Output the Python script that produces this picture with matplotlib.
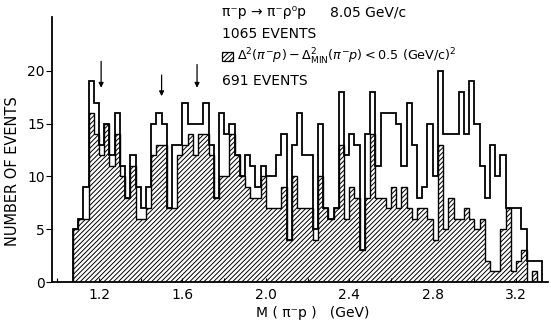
import matplotlib
matplotlib.use('Agg')
import matplotlib.pyplot as plt
import numpy as np
from matplotlib.patches import Rectangle

# ---- data ----
bin_start = 1.075      # GeV, left edge of first bin
bin_width = 0.025      # GeV
all_events = [5, 6, 9, 19, 17, 13, 15, 12, 16, 11,
              8, 12, 9, 7, 9, 15, 16, 15, 7, 13,
              13, 17, 15, 15, 15, 17, 13, 8, 16, 14,
              15, 12, 10, 12, 11, 9, 11, 10, 10, 12,
              14, 4, 13, 16, 12, 12, 5, 15, 7, 6,
              7, 18, 12, 14, 13, 3, 14, 18, 11, 16,
              16, 16, 15, 11, 17, 13, 8, 9, 15, 10,
              20, 14, 14, 14, 18, 14, 19, 15, 11, 8,
              13, 10, 12, 7, 7, 7, 5, 2, 2, 2]
selected_events = [5, 6, 6, 16, 14, 12, 15, 11, 14, 10,
                   8, 11, 6, 6, 7, 12, 13, 13, 7, 7,
                   12, 13, 14, 12, 14, 14, 12, 8, 10, 10,
                   14, 12, 10, 9, 8, 8, 10, 7, 7, 7,
                   9, 4, 10, 7, 7, 7, 4, 10, 7, 6,
                   7, 13, 6, 9, 8, 3, 8, 14, 8, 8,
                   7, 9, 7, 9, 7, 6, 7, 7, 6, 4,
                   13, 5, 8, 6, 6, 7, 6, 5, 6, 2,
                   1, 1, 5, 7, 1, 2, 3, 0, 1, 0]
arrow_masses = [1.21, 1.50, 1.67]
arrow_tops = [20.9, 19.6, 20.6]
arrow_bottoms = [18.4, 17.6, 18.4]
x_ticks = [1.2, 1.6, 2.0, 2.4, 2.8, 3.2]
x_minor = [1.0, 1.4, 1.8, 2.2, 2.6, 3.0]
y_ticks = [0, 5, 10, 15, 20]

plt.rcParams['font.family'] = ['DejaVu Sans']
plt.rcParams['mathtext.fontset'] = 'dejavusans'
plt.rcParams['hatch.linewidth'] = 0.7

W, H = 551, 323
fig = plt.figure(figsize=(W / 100, H / 100), dpi=100)
ax = fig.add_axes([51.7 / W, 1 - 282 / H, (548 - 51.7) / W, (282 - 17) / H])

edges = bin_start + bin_width * np.arange(len(all_events) + 1)
ax.stairs(selected_events, edges, fill=True, facecolor='white',
          edgecolor='black', hatch='///////', linewidth=1.0)
ax.stairs(all_events, edges, color='black', linewidth=1.3, baseline=0)

for xm, yt, yb in zip(arrow_masses, arrow_tops, arrow_bottoms):
    ax.annotate('', xy=(xm, yb), xytext=(xm, yt),
                arrowprops=dict(arrowstyle='-|>', color='black', lw=0.9,
                                mutation_scale=7, shrinkA=0, shrinkB=0))

ax.set_xlim(0.973, 3.353)
ax.set_ylim(0, 25.1)
ax.spines['top'].set_visible(False)
ax.spines['right'].set_visible(False)
ax.spines['left'].set_linewidth(1.3)
ax.spines['bottom'].set_linewidth(1.3)

ax.set_xticks(x_ticks)
ax.set_xticklabels([f'{v:.1f}' for v in x_ticks])
ax.set_xticks(x_minor, minor=True)
ax.set_yticks(y_ticks)
ax.tick_params(axis='x', direction='in', length=3, width=0.8, labelsize=10, pad=4)
ax.tick_params(axis='x', which='minor', direction='in', length=3, width=0.8)
ax.tick_params(axis='y', direction='out', length=4, width=0.8, labelsize=10, pad=1)

ax.set_xlabel('M ( π⁻p )   (GeV)', fontsize=10)
ax.xaxis.set_label_coords((313 - 51.7) / 496.3, (282 - 306) / 265)
ax.set_ylabel('NUMBER OF EVENTS', fontsize=10.5)
ax.yaxis.set_label_coords((20 - 51.7) / 496.3, (282 - 171) / 265)

def ftext(x, y, s, **kw):
    fig.text(x / W, 1 - y / H, s, va='center', ha='left', **kw)

ftext(222, 12, 'π⁻p → π⁻ρ⁰p', fontsize=10)
ftext(330, 12, '8.05 GeV/c', fontsize=10)
ftext(222, 34, '1065 EVENTS', fontsize=10)
ftext(237, 57, r'$\Delta^2(\pi^{-}p) - \Delta^2_{\rm MIN}(\pi^{-}p) < 0.5\ ({\rm GeV/c})^2$',
      fontsize=9.2)
ftext(222, 81, '691 EVENTS', fontsize=10)
fig.patches.append(Rectangle((222 / W, 1 - 61 / H), 11 / W, 9 / H,
                             transform=fig.transFigure, facecolor='white',
                             edgecolor='black', hatch='///////', linewidth=0.9))

fig.savefig('out.png', dpi=100)
